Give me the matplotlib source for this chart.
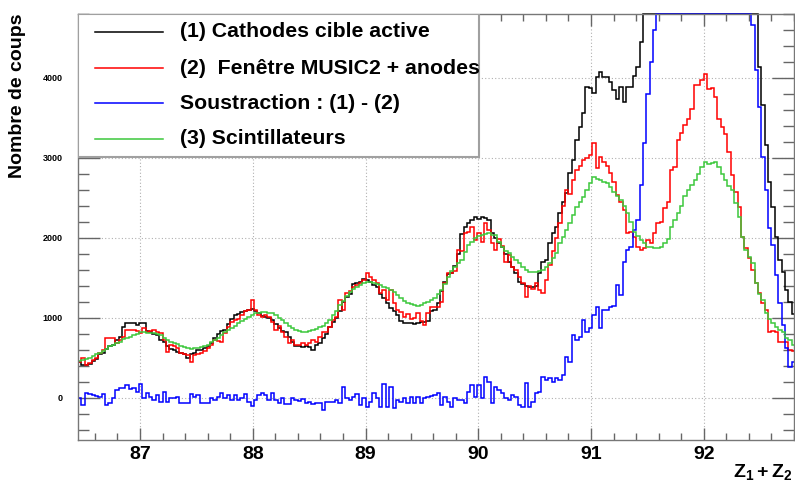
import numpy as np
import matplotlib
matplotlib.use("Agg")
import matplotlib.pyplot as plt
from matplotlib.patches import Rectangle
from matplotlib.lines import Line2D
from matplotlib.ticker import MultipleLocator

# histogram binning (Z1 + Z2)
x_first = 86.45
bin_width = 0.03

# (1) Cathodes cible active
black = [
    450, 410, 405, 415, 460, 480, 540, 560, 610, 640,
    660, 720, 760, 880, 930, 940, 935, 910, 940, 935,
    830, 820, 800, 780, 720, 690, 640, 610, 595, 570,
    555, 540, 490, 550, 560, 590, 600, 615, 650, 680,
    740, 800, 830, 850, 920, 980, 1030, 1050, 1075, 1090,
    1100, 1115, 1080, 1060, 1020, 1010, 1000, 970, 920, 870,
    840, 820, 760, 700, 640, 640, 635, 640, 630, 595,
    660, 680, 740, 790, 880, 950, 1000, 1090, 1200, 1260,
    1300, 1420, 1440, 1450, 1480, 1470, 1450, 1410, 1380, 1300,
    1250, 1180, 1120, 1090, 1040, 960, 940, 935, 930, 920,
    930, 945, 950, 955, 1090, 1100, 1180, 1340, 1450, 1550,
    1560, 1650, 1800, 2050, 2130, 2180, 2220, 2260, 2240, 2260,
    2250, 2220, 2060, 2000, 1930, 1880, 1800, 1700, 1640, 1560,
    1450, 1420, 1400, 1390, 1390, 1400, 1560, 1700, 1720, 1930,
    2060, 2140, 2310, 2450, 2560, 2810, 2970, 3220, 3390, 3560,
    3890, 3880, 3810, 4010, 4080, 4010, 4010, 3950, 3850, 3740,
    3890, 3700, 3890, 3890, 4030, 4140, 4450, 5050, 5770, 6130,
    6650, 7200, 7500, 7900, 8200, 8500, 8700, 8900, 9050, 9200,
    9300, 9400, 9450, 9500, 9500, 9450, 9400, 9300, 9150, 9000,
    8800, 8600, 8300, 8000, 7700, 7400, 7000, 6700, 6400, 6250,
    5500, 4140, 3660, 3160, 2700, 2390, 2010, 1720, 1575, 1346,
    1200, 1050]

# (2) Fenetre MUSIC2 + anodes
red = [
    450, 492, 409, 430, 470, 500, 555, 600, 742, 742,
    742, 680, 720, 760, 846, 846, 846, 830, 805, 867,
    825, 840, 846, 820, 805, 720, 575, 660, 640, 617,
    555, 545, 534, 450, 534, 540, 555, 580, 617, 660,
    720, 710, 700, 804, 880, 950, 970, 990, 1040, 1080,
    1100, 1221, 1096, 1040, 1013, 1033, 1013, 950, 846, 900,
    825, 763, 679, 720, 660, 658, 679, 660, 679, 721,
    700, 760, 825, 825, 888, 971, 1013, 1221, 1096, 1304,
    1340, 1388, 1408, 1430, 1470, 1555, 1510, 1470, 1430, 1305,
    1345, 1221, 1346, 1180, 1096, 1075, 1013, 1050, 990, 1000,
    1060, 958, 909, 1054, 1138, 1138, 1138, 1200, 1430, 1555,
    1555, 1580, 1846, 1830, 2055, 2070, 2138, 1971, 2055, 1950,
    2180, 2100, 1930, 1846, 1990, 1900, 1700, 1780, 1638, 1600,
    1513, 1430, 1263, 1400, 1360, 1430, 1346, 1305, 1470, 1660,
    1830, 2000, 2180, 2400, 2596, 2554, 2720, 2850, 2900, 2971,
    3000, 3034, 3180, 2867, 3013, 2950, 2900, 2805, 2700, 2534,
    2450, 2346, 2055, 2070, 2013, 1888, 1846, 1870, 1971, 1930,
    2055, 2180, 2200, 2367, 2450, 2846, 2888, 3221, 3305, 3409,
    3492, 3617, 3909, 3909, 3971, 4055, 3867, 3880, 3763, 3492,
    3388, 3300, 3075, 2784, 2575, 2388, 2013, 1867, 1742, 1596,
    1430, 1305, 1180, 1100, 825, 830, 820, 690, 690, 700,
    600, 580]

# Soustraction (1) - (2)
blue = [
    -8, -92, 54, 40, 33, 20, 12, 42, -92, -63,
    -8, 96, 117, 117, 158, 104, 117, 75, 171, -8,
    62, 12, -29, 33, -50, 75, -50, -8, -8, 12,
    -63, -63, -63, 46, 12, 38, -63, -71, -71, -8,
    -29, 12, 62, -8, 33, -29, 33, -29, -8, 42,
    -50, -104, -29, 33, 54, 33, -29, 54, -29, -71,
    -8, -79, -83, -8, -29, -38, -21, -71, -50, -79,
    -63, -63, -154, -50, -50, -50, -29, -71, 137, -8,
    -29, 12, 42, -92, -8, -112, -50, 54, -8, -121,
    171, -112, 137, -133, -29, -50, -8, -71, 12, -71,
    12, -71, -8, 12, 20, 33, 54, -92, 12, -50,
    -112, -8, -29, -29, -71, 75, 158, 12, 158, -8,
    263, 200, -71, 138, 96, 54, 0, -29, 33, 12,
    -92, -112, 180, -112, -50, 54, 75, 263, 221, 242,
    200, 242, 221, 284, 513, 450, 784, 720, 760, 972,
    826, 870, 1034, 1138, 870, 1100, 1100, 1130, 1147, 1410,
    1284, 1701, 1847, 1889, 2100, 2221, 2660, 3180, 3800, 4200,
    4600, 5100, 5300, 5500, 5600, 5700, 5750, 5800, 5800, 5780,
    5750, 5700, 5650, 5600, 5550, 5500, 5450, 5450, 5400, 5400,
    5350, 5300, 5250, 5200, 5150, 5100, 5050, 5000, 4950, 4659,
    4096, 3638, 3013, 2596, 2117, 1909, 1534, 1180, 909, 617,
    388, 450]

# (3) Scintillateurs
green = [
    460, 470, 480, 500, 520, 540, 555, 580, 610, 640,
    660, 680, 700, 730, 745, 760, 783, 800, 825, 820,
    805, 810, 805, 800, 780, 750, 720, 700, 680, 665,
    650, 635, 617, 610, 615, 617, 630, 645, 660, 690,
    720, 742, 780, 820, 846, 870, 900, 930, 960, 990,
    1013, 1035, 1054, 1060, 1075, 1075, 1060, 1054, 1030, 1000,
    971, 930, 900, 867, 850, 830, 825, 820, 830, 846,
    860, 888, 900, 930, 971, 1030, 1090, 1158, 1210, 1270,
    1325, 1360, 1390, 1408, 1430, 1450, 1450, 1440, 1420, 1408,
    1390, 1370, 1346, 1320, 1290, 1242, 1210, 1190, 1170, 1160,
    1150, 1158, 1180, 1200, 1221, 1250, 1300, 1346, 1420, 1513,
    1580, 1638, 1680, 1721, 1820, 1909, 1950, 1993, 2020, 2034,
    2050, 2055, 2040, 2034, 1950, 1888, 1840, 1805, 1760, 1721,
    1680, 1638, 1600, 1575, 1575, 1575, 1580, 1596, 1640, 1680,
    1750, 1805, 1930, 2013, 2100, 2180, 2280, 2388, 2450, 2513,
    2600, 2680, 2763, 2740, 2720, 2700, 2680, 2640, 2575, 2520,
    2471, 2400, 2305, 2200, 2075, 2020, 1971, 1930, 1888, 1880,
    1867, 1870, 1890, 1940, 1990, 2138, 2220, 2305, 2400, 2520,
    2596, 2660, 2721, 2800, 2880, 2950, 2920, 2940, 2950, 2888,
    2800, 2721, 2650, 2596, 2430, 2263, 2013, 1846, 1760, 1680,
    1430, 1300, 1221, 1055, 980, 930, 880, 850, 825, 742,
    720, 658]

labels = ["(1) Cathodes cible active",
          "(2)  Fen\u00eatre MUSIC2 + anodes",
          "Soustraction : (1) - (2)",
          "(3) Scintillateurs"]
colors = ["#000000", "#ff0000", "#0000ff", "#3cc83c"]

plt.rcParams["font.family"] = ["Liberation Sans", "DejaVu Sans"]
plt.rcParams["font.weight"] = "bold"
plt.rcParams["mathtext.fontset"] = "custom"
plt.rcParams["mathtext.rm"] = "Liberation Sans:bold"
plt.rcParams["mathtext.bf"] = "Liberation Sans:bold"
plt.rcParams["mathtext.it"] = "Liberation Sans:bold"

ymin, ymax = -530, 4800
edges = x_first + bin_width * np.arange(len(black) + 1)

fig = plt.figure(figsize=(7.95, 4.84), dpi=100)
ax = fig.add_axes([78 / 795, 44 / 484, 716 / 795, 426 / 484])

for vals, col in zip([black, red, blue, green], colors):
    # ROOT draws overflowing bins along the frame top
    ax.stairs(np.minimum(vals, ymax), edges, color=col, lw=1.1,
              baseline=None, zorder=2, clip_on=False)

ax.set_xlim(86.45, 92.8)
ax.set_ylim(ymin, ymax)

ax.xaxis.set_major_locator(MultipleLocator(1))
ax.xaxis.set_minor_locator(MultipleLocator(0.2))
ax.yaxis.set_major_locator(MultipleLocator(1000))
ax.yaxis.set_minor_locator(MultipleLocator(200))
ax.tick_params(which="both", direction="in", top=True, right=True,
               color="#666666", width=1)
ax.tick_params(axis="y", which="major", length=16, labelsize=6.5, pad=11)
ax.tick_params(axis="y", which="minor", length=8)
ax.tick_params(axis="x", which="major", length=8.5, labelsize=14, pad=4)
ax.tick_params(axis="x", which="minor", length=5)
for s in ax.spines.values():
    s.set_color("#777777")
    s.set_linewidth(1)

ax.grid(True, which="major", color="#b0b0b0", ls=(0, (1, 2)), lw=0.8, zorder=0.5)

# legend box, ROOT TLegend style
ax.add_patch(Rectangle((0, 0.664), 0.560, 0.336, transform=ax.transAxes,
                       facecolor="white", edgecolor="#a0a0a0", lw=1.5, zorder=3))
ys = [0.958, 0.873, 0.791, 0.707]
for y, lab, col in zip(ys, labels, colors):
    ax.add_line(Line2D([0.0237, 0.1187], [y, y], transform=ax.transAxes,
                       color=col, lw=1.1, zorder=4))
    ax.text(0.1425, y, lab, transform=ax.transAxes, fontsize=15.3,
            fontweight="bold", va="center", ha="left", zorder=4)

fig.text(18 / 795, 1 - 96 / 484, "Nombre de coups", rotation=90,
         ha="center", va="center", fontsize=14, fontweight="bold")
fig.text(793 / 795, 1 - 477 / 484, r"$\mathbf{Z_1 + Z_2}$",
         ha="right", va="baseline", fontsize=14)

fig.savefig("out.png", dpi=100)
